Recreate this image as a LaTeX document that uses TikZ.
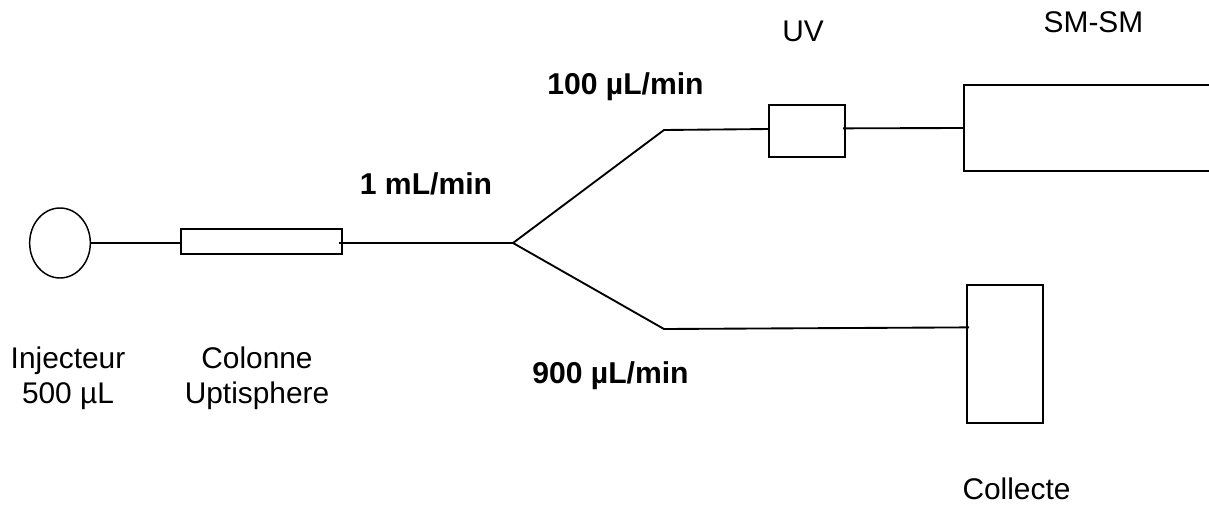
\documentclass[tikz,border=0pt]{standalone}
\usepackage{fontspec}
\setmainfont{Liberation Sans}
\usetikzlibrary{shapes.geometric}
\begin{document}
\begin{tikzpicture}[
  x=0.75pt,y=-0.75pt,
  part/.style={draw=black,line width=1.4pt,fill=none,inner sep=0pt,outer sep=0pt},
  lbl/.style={align=center,anchor=base,inner sep=0pt,font=\fontsize{22.4}{26.25}\selectfont},
  flow/.style={align=center,anchor=base,inner sep=0pt,font=\fontsize{22.6}{26.25}\selectfont\bfseries},
  pipe/.style={line width=1.4pt,draw=black}
]
\clip[use as bounding box] (0,0) rectangle (1209,506);
% parts
\node[part,ellipse,line width=1.1pt,minimum width=45.5pt,minimum height=52.5pt] (inj) at (60,243) {};
\node[part,minimum width=120.5pt,minimum height=19pt] (col) at (261.5,241.5) {};
\node[part,minimum width=57pt,minimum height=39pt] (uv) at (807,131) {};
\node[part,minimum width=195pt,minimum height=64.5pt] (sm) at (1094,128) {};
\node[part,minimum width=57pt,minimum height=103.5pt] (coll) at (1005,354) {};
% split
\coordinate (split) at (513,243);
\coordinate (bendup) at (664,130);
\coordinate (benddown) at (664,329);
\draw[pipe] (inj.east) -- (col.west |- inj.east);
\draw[pipe,shorten <=-2pt] (col.east |- split) -- (split);
\draw[pipe] (split) -- (bendup) -- (uv.177);
\draw[pipe,shorten <=-1.5pt] (uv.4) -- (sm.west);
\draw[pipe,shorten >=-1.5pt] (split) -- (benddown) -- (coll.145);
% labels
\node[lbl] (injlbl) at (68,403) {Injecteur\\500 µL};
\node[lbl] (collbl) at (257,403) {Colonne\\Uptisphere};
\node[lbl] (uvlbl) at (803,42) {UV};
\node[lbl] (smlbl) at (1093.5,33) {SM-SM};
\node[lbl] (colllbl) at (1016.5,499) {Collecte};
\node[flow] (main) at (426,195) {1 mL/min};
\node[flow] (up) at (625.5,95) {100 µL/min};
\node[flow] (down) at (610.5,383) {900 µL/min};
\end{tikzpicture}
\end{document}
